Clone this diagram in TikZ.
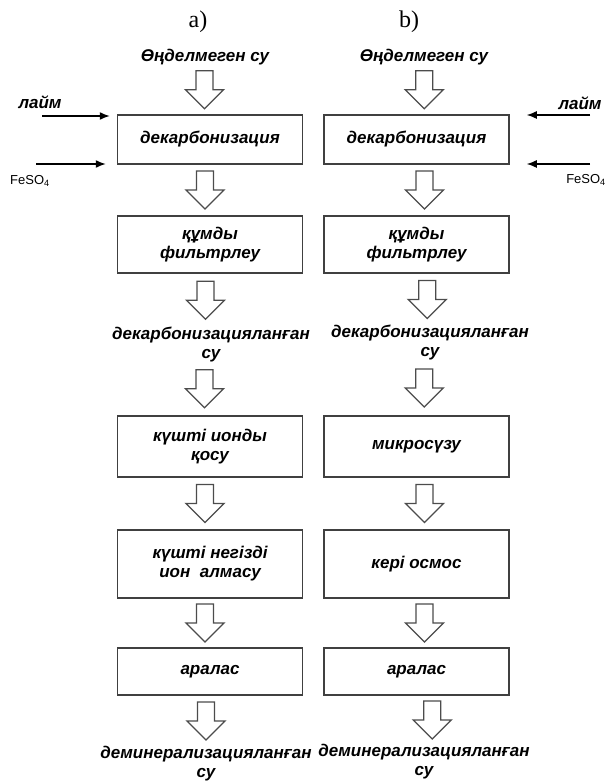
\documentclass[tikz,border=0pt]{standalone}
\usepackage{fontspec}
\setsansfont{Liberation Sans}
\newfontfamily\capfont{Liberation Serif}
\usetikzlibrary{calc,arrows.meta}

\tikzset{
    stage/.style={draw=black!75, line width=1.5pt, minimum width=185pt, inner sep=0pt,
        align=center, font=\sffamily\bfseries\itshape\fontsize{17}{19}\selectfont},
    txt/.style={inner sep=0pt, align=center, font=\sffamily\bfseries\itshape\fontsize{17}{19}\selectfont},
    chem/.style={inner sep=0pt, font=\sffamily\fontsize{13}{15}\selectfont},
    tag/.style={inner sep=0pt, font=\capfont\fontsize{24}{28}\selectfont},
    feed/.style={>={Latex[length=10pt,width=8pt]}, ->, line width=1.4pt},
    hollow/.style={draw=black!70, line width=1.3pt, fill=white, line join=miter}
}
% hollow flow arrow half way between two nodes
\newcommand{\flow}[3][0pt]{%
    \draw[hollow] ($(#2.south)!0.5!(#3.north)$) ++(#1,0)
        +(-8.5pt,19pt) -- +(8.5pt,19pt) -- +(8.5pt,0pt) -- +(19pt,0pt)
        -- +(0pt,-19pt) -- +(-19pt,0pt) -- +(-8.5pt,0pt) -- cycle;}

\begin{document}
\begin{tikzpicture}[x=1pt,y=-1pt]
    \useasboundingbox (0,0) rectangle (608,783);
    % Headings
    \node[tag] (capA) at (198,22) {a)};
    \node[tag] (capB) at (409,22) {b)};
    % Left scheme
    \node[txt] (rawA) at (205,57) {Өңделмеген су};
    \node[stage, minimum height=49pt] (decA) at (210,139.5) {декарбонизация};
    \node[stage, minimum height=57pt] (sandA) at (210,244.5) {құмды\\фильтрлеу};
    \node[txt] (softA) at (211,344.5) {декарбонизацияланған\\су};
    \node[stage, minimum height=61pt] (ionA) at (210,446.5) {күшті ионды\\қосу};
    \node[stage, minimum height=68pt] (baseA) at (210,564) {күшті негізді\\ион \ алмасу};
    \node[stage, minimum height=47pt] (mixA) at (210,671.5) {аралас};
    \node[txt] (demA) at (206,764) {деминерализацияланған\\су};
    % Right scheme
    \node[txt] (rawB) at (424,57) {Өңделмеген су};
    \node[stage, minimum height=49pt] (decB) at (416.5,139.5) {декарбонизация};
    \node[stage, minimum height=57pt] (sandB) at (416.5,244.5) {құмды\\фильтрлеу};
    \node[txt] (softB) at (430,343) {декарбонизацияланған\\су};
    \node[stage, minimum height=61pt] (memB) at (416.5,446.5) {микросүзу};
    \node[stage, minimum height=68pt] (roB) at (416.5,564) {кері осмос};
    \node[stage, minimum height=47pt] (mixB) at (416.5,671.5) {аралас};
    \node[txt] (demB) at (424,762) {деминерализацияланған\\су};
    % Dosing of chemicals
    \node[txt] (limeA) at (40,102) {лайм};
    \node[chem] (ironA) at (30,181) {FeSO\textsubscript{4}};
    \node[txt] (limeB) at (580,103) {лайм};
    \node[chem] (ironB) at (586,180) {FeSO\textsubscript{4}};
    \coordinate (limeA0) at (42,116);
    \coordinate (ironA0) at (36,164);
    \coordinate (limeB0) at (590,115);
    \coordinate (ironB0) at (590,164);
    \draw[feed, shorten >=7pt] (limeA0) -- (limeA0 -| decA.west);
    \draw[feed, shorten >=11pt] (ironA0) -- (ironA0 -| decA.west);
    \draw[feed, shorten >=17pt] (limeB0) -- (limeB0 -| decB.east);
    \draw[feed, shorten >=17pt] (ironB0) -- (ironB0 -| decB.east);
    % Flow arrows
    \flow[-3pt]{rawA}{decA}
    \flow[-5pt]{decA}{sandA}
    \flow[-5pt]{sandA}{softA}
    \flow[-6pt]{softA}{ionA}
    \flow[-5pt]{ionA}{baseA}
    \flow[-5pt]{baseA}{mixA}
    \flow[-2pt]{mixA}{demA}
    \flow[4pt]{rawB}{decB}
    \flow[8pt]{decB}{sandB}
    \flow[4pt]{sandB}{softB}
    \flow[1pt]{softB}{memB}
    \flow[8pt]{memB}{roB}
    \flow[8pt]{roB}{mixB}
    \flow[12pt]{mixB}{demB}
\end{tikzpicture}
\end{document}
